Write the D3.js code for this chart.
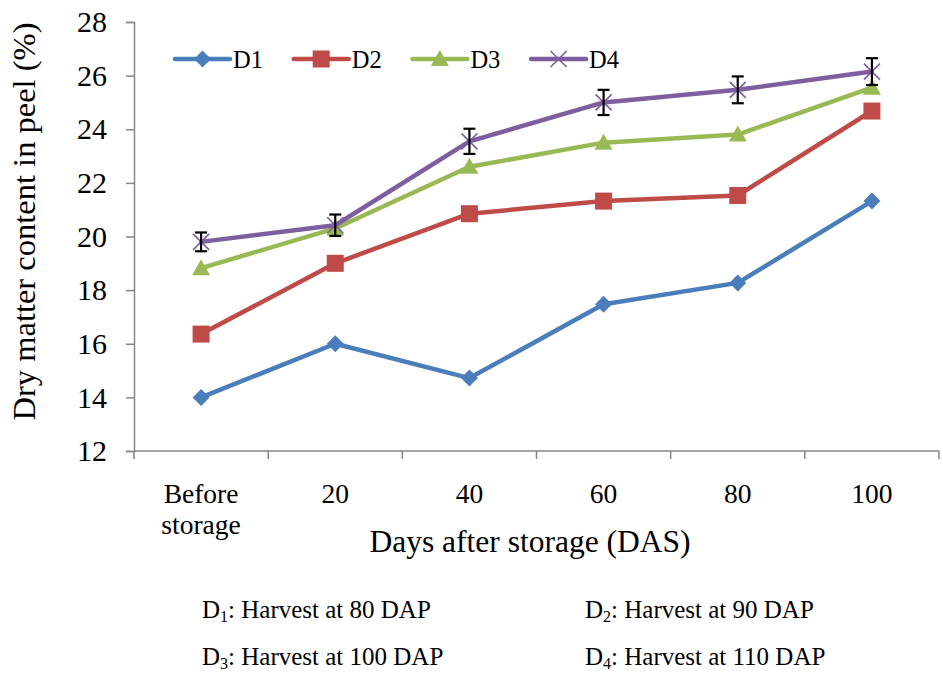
<!DOCTYPE html>
<html>
<head>
<meta charset="utf-8">
<script src="https://d3js.org/d3.v7.min.js"></script>
</head>
<body style="margin:0">
<div id="c"></div>
<script>
const categories = ["Before storage", "20", "40", "60", "80", "100"];
const seriesNames = ["D1", "D2", "D3", "D4"];
const d1 = [14.0, 16.0, 14.72, 17.47, 18.27, 21.32];
const d2 = [16.36, 19.0, 20.85, 21.32, 21.53, 24.68];
const d3vals = [18.82, 20.3, 22.6, 23.5, 23.8, 25.55];
const d4 = [19.8, 20.42, 23.55, 25.0, 25.47, 26.15];
const d4err = [0.35, 0.4, 0.47, 0.47, 0.5, 0.5];
const yTicks = [12, 14, 16, 18, 20, 22, 24, 26, 28];
const footnotes = [
  ["1", ": Harvest at 80 DAP"],
  ["2", ": Harvest at 90 DAP"],
  ["3", ": Harvest at 100 DAP"],
  ["4", ": Harvest at 110 DAP"]
];

const colors = ["#4A7EBB", "#BE4B48", "#98B954", "#7D5FA0"];
const symbols = ["diamond", "square", "triangle", "cross"];
const series = [d1, d2, d3vals, d4];
const FONT = "'Liberation Serif'";

const W = 943, H = 673;
const margin = { top: 22, right: 4, bottom: 222, left: 134 };
const width = W - margin.left - margin.right;
const height = H - margin.top - margin.bottom;

const svg = d3.select("#c").append("svg")
  .attr("width", W).attr("height", H);

const g = svg.append("g")
  .attr("transform", "translate(" + margin.left + "," + margin.top + ")");

const x = d3.scaleBand().domain(categories).range([0, width]);
const y = d3.scaleLinear().domain([12, 28]).range([height, 0]);
const cx = (c) => x(c) + x.bandwidth() / 2;

function txt(sel, size) {
  return sel.append("text")
    .style("font-family", FONT, "important")
    .style("font-size", size + "px")
    .attr("fill", "#000");
}

// y axis (labels drawn as plain texts so the font sticks)
const yAxis = g.append("g").attr("class", "y-axis")
  .call(d3.axisLeft(y).tickValues(yTicks).tickSize(8).tickSizeOuter(8).tickFormat(""));
yAxis.attr("font-family", null).attr("font-size", null);
yAxis.select(".domain").attr("stroke", "#868686").attr("stroke-width", 1.5);
yAxis.selectAll(".tick line").attr("stroke", "#868686").attr("stroke-width", 1.5);
yAxis.selectAll(".tick text").remove();
yTicks.forEach((v) => {
  txt(g, 30).attr("text-anchor", "end").attr("x", -27).attr("y", y(v)).attr("dy", "0.34em").text(v);
});

// x axis: ticks at band boundaries
const xAxisG = g.append("g").attr("class", "x-axis")
  .attr("transform", "translate(0," + height + ")");
xAxisG.append("line").attr("x1", 0).attr("x2", width)
  .attr("stroke", "#868686").attr("stroke-width", 1.5);
const bounds = categories.map((c) => x(c)).concat([x.range()[1]]);
xAxisG.selectAll(".xt").data(bounds).enter().append("line")
  .attr("x1", (d) => d).attr("x2", (d) => d).attr("y1", 0).attr("y2", 8)
  .attr("stroke", "#868686").attr("stroke-width", 1.5);
categories.forEach((c) => {
  const words = c === "Before storage" ? ["Before", "storage"] : [c];
  const t = txt(xAxisG, 27.5).attr("text-anchor", "middle");
  words.forEach((w, i) => {
    t.append("tspan").attr("x", cx(c)).attr("y", 52 + i * 31).text(w);
  });
});

// axis titles
txt(svg, 31.5).attr("text-anchor", "middle")
  .attr("x", 530).attr("y", 552)
  .text("Days after storage (DAS)");
txt(svg, 32.5).attr("text-anchor", "middle")
  .attr("transform", "translate(35,221.5) rotate(-90)")
  .text("Dry matter content in peel (%)");

// marker drawing
function marker(sel, type, color) {
  if (type === "diamond") {
    sel.append("path").attr("d", "M0,-8.5L8.5,0L0,8.5L-8.5,0Z").attr("fill", color);
  } else if (type === "square") {
    sel.append("rect").attr("x", -8.5).attr("y", -8.5).attr("width", 17).attr("height", 17).attr("fill", color);
  } else if (type === "triangle") {
    sel.append("path").attr("d", "M0,-9L9,7L-9,7Z").attr("fill", color);
  } else {
    sel.append("path").attr("d", "M-8,-8L8,8M-8,8L8,-8")
      .attr("stroke", color).attr("stroke-width", 1.6).attr("fill", "none");
  }
}

const line = d3.line()
  .x((d, i) => cx(categories[i]))
  .y((d) => y(d));

series.forEach((s, k) => {
  g.append("path").datum(s)
    .attr("fill", "none")
    .attr("stroke", colors[k])
    .attr("stroke-width", 4.5)
    .attr("stroke-linejoin", "round")
    .attr("stroke-linecap", "round")
    .attr("d", line);
  s.forEach((v, i) => {
    const m = g.append("g").attr("transform", "translate(" + cx(categories[i]) + "," + y(v) + ")");
    marker(m, symbols[k], colors[k]);
  });
});

// error bars on D4
const eb = g.append("g").attr("class", "err");
d4.forEach((v, i) => {
  const px = cx(categories[i]);
  const y0 = y(v - d4err[i]), y1 = y(v + d4err[i]);
  eb.append("line").attr("x1", px).attr("x2", px).attr("y1", y0).attr("y2", y1)
    .attr("stroke", "#000").attr("stroke-width", 2.2);
  [y0, y1].forEach((yy) => {
    eb.append("line").attr("x1", px - 6).attr("x2", px + 6).attr("y1", yy).attr("y2", yy)
      .attr("stroke", "#000").attr("stroke-width", 2.2);
  });
});

// legend
const legend = svg.append("g").attr("transform", "translate(175,59)");
seriesNames.forEach((n, k) => {
  const li = legend.append("g").attr("transform", "translate(" + k * 118.7 + ",0)");
  li.append("line").attr("x1", 0).attr("x2", 55).attr("y1", 0).attr("y2", 0)
    .attr("stroke", colors[k]).attr("stroke-width", 4.5).attr("stroke-linecap", "round");
  marker(li.append("g").attr("transform", "translate(27.5,0)"), symbols[k], colors[k]);
  txt(li, 24.5).attr("x", 58).attr("y", 9).text(n);
});

// footnotes
const fx = [202, 585], fy = [618, 665];
footnotes.forEach((f, i) => {
  const t = txt(svg, 25)
    .attr("x", fx[i % 2]).attr("y", fy[Math.floor(i / 2)]);
  t.append("tspan").text("D");
  t.append("tspan").style("font-size", "16px").attr("dy", 4).text(f[0]);
  t.append("tspan").attr("dy", -4).text(f[1]);
});
</script>
</body>
</html>
